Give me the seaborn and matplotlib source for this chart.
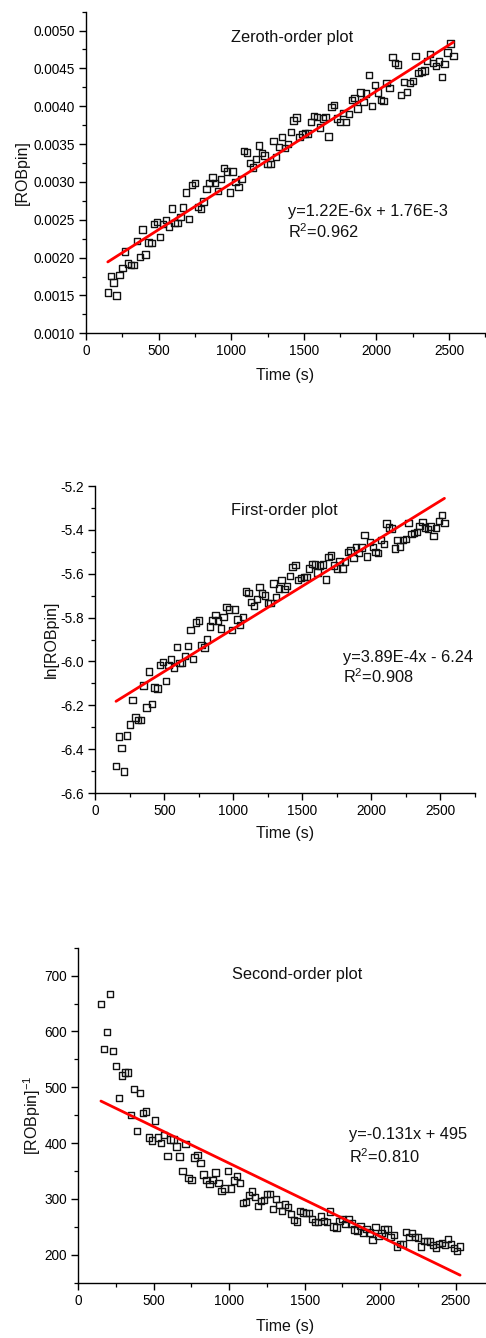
import numpy as np
import pandas as pd
import matplotlib
matplotlib.use("Agg")
import matplotlib.pyplot as plt
from matplotlib.ticker import MultipleLocator, FormatStrFormatter
import seaborn as sns

# ---- measured data -------------------------------------------------------
time_s = [
    150, 170, 190, 210, 230, 250, 270, 290, 310, 330,
    350, 370, 390, 410, 430, 450, 470, 490, 510, 530,
    550, 570, 590, 610, 630, 650, 670, 690, 710, 730,
    750, 770, 790, 810, 830, 850, 870, 890, 910, 930,
    950, 970, 990, 1010, 1030, 1050, 1070, 1090, 1110, 1130,
    1150, 1170, 1190, 1210, 1230, 1250, 1270, 1290, 1310, 1330,
    1350, 1370, 1390, 1410, 1430, 1450, 1470, 1490, 1510, 1530,
    1550, 1570, 1590, 1610, 1630, 1650, 1670, 1690, 1710, 1730,
    1750, 1770, 1790, 1810, 1830, 1850, 1870, 1890, 1910, 1930,
    1950, 1970, 1990, 2010, 2030, 2050, 2070, 2090, 2110, 2130,
    2150, 2170, 2190, 2210, 2230, 2250, 2270, 2290, 2310, 2330,
    2350, 2370, 2390, 2410, 2430, 2450, 2470, 2490, 2510, 2530,
]

robpin_conc = [
    0.00154, 0.00176, 0.00167, 0.00150, 0.00177, 0.00186, 0.00208, 0.00192, 0.00190, 0.00190,
    0.00222, 0.00201, 0.00237, 0.00204, 0.00220, 0.00219, 0.00244, 0.00247, 0.00227, 0.00244,
    0.00250, 0.00241, 0.00265, 0.00246, 0.00246, 0.00254, 0.00266, 0.00286, 0.00251, 0.00296,
    0.00299, 0.00267, 0.00264, 0.00274, 0.00291, 0.00299, 0.00306, 0.00299, 0.00288, 0.00304,
    0.00318, 0.00314, 0.00286, 0.00314, 0.00300, 0.00293, 0.00304, 0.00341, 0.00339, 0.00325,
    0.00319, 0.00330, 0.00348, 0.00338, 0.00335, 0.00324, 0.00324, 0.00354, 0.00333, 0.00346,
    0.00359, 0.00345, 0.00350, 0.00366, 0.00381, 0.00385, 0.00359, 0.00363, 0.00364, 0.00364,
    0.00379, 0.00387, 0.00386, 0.00372, 0.00384, 0.00386, 0.00360, 0.00399, 0.00402, 0.00384,
    0.00379, 0.00391, 0.00379, 0.00390, 0.00408, 0.00411, 0.00397, 0.00418, 0.00406, 0.00417,
    0.00441, 0.00400, 0.00428, 0.00418, 0.00408, 0.00407, 0.00431, 0.00424, 0.00465, 0.00457,
    0.00455, 0.00415, 0.00432, 0.00419, 0.00431, 0.00433, 0.00466, 0.00444, 0.00446, 0.00447,
    0.00460, 0.00469, 0.00457, 0.00453, 0.00459, 0.00439, 0.00456, 0.00471, 0.00483, 0.00466,
]

# linear fits as reported on each plot
fit_slopes = [1.22e-6, 3.89e-4, -0.131]
fit_intercepts = [1.76e-3, -6.24, 495.0]
fit_r2 = ["0.962", "0.908", "0.810"]
fit_labels = ["y=1.22E-6x + 1.76E-3", "y=3.89E-4x - 6.24", "y=-0.131x + 495"]
plot_titles = ["Zeroth-order plot", "First-order plot", "Second-order plot"]
y_labels = ["[ROBpin]", "ln[ROBpin]", "[ROBpin]$^{-1}$"]
x_ticks = [0, 500, 1000, 1500, 2000, 2500]

# ---- derived quantities for the three kinetic treatments -----------------
conc = np.asarray(robpin_conc)
df = pd.DataFrame({
    "time": time_s,
    "zeroth": conc,
    "first": np.log(conc),
    "second": 1.0 / conc,
})
series_cols = ["zeroth", "first", "second"]

# ---- styling --------------------------------------------------------------
sns.set_theme(style="ticks")
plt.rcParams["font.family"] = ["Liberation Sans", "DejaVu Sans"]
plt.rcParams["mathtext.fontset"] = "custom"
plt.rcParams["mathtext.rm"] = "Liberation Sans"
plt.rcParams["mathtext.it"] = "Liberation Sans:italic"
plt.rcParams["mathtext.bf"] = "Liberation Sans:bold"
plt.rcParams["axes.unicode_minus"] = False
plt.rcParams["axes.edgecolor"] = "black"
plt.rcParams["xtick.color"] = "black"
plt.rcParams["ytick.color"] = "black"
plt.rcParams["text.color"] = "#111111"
plt.rcParams["axes.labelcolor"] = "#111111"

fig = plt.figure(figsize=(4.86, 13.38), dpi=100)
fig.patch.set_facecolor("white")

layout = [
    dict(rect=[0.177, 0.7509, 0.8216, 0.2404], ylim=(0.001, 0.00525),
         major=0.0005, minor=0.00025, fmt="%.4f",
         title_xy=(1419, 0.00485), eq_xy=(1391, 0.00255), r2_xy=(1391, 0.00226),
         ylab_x=-0.160),
    dict(rect=[0.1961, 0.4073, 0.7809, 0.2294], ylim=(-6.6, -5.2),
         major=0.2, minor=0.1, fmt="%.1f",
         title_xy=(1366, -5.332), eq_xy=(1797, -6.001), r2_xy=(1797, -6.100),
         ylab_x=-0.115),
    dict(rect=[0.1611, 0.0413, 0.8539, 0.2504], ylim=(150, 750),
         major=100, minor=50, fmt="%d",
         title_xy=(1449, 694), eq_xy=(1795, 407), r2_xy=(1795, 364),
         ylab_x=-0.112),
]

t_fit = np.array([time_s[0], time_s[-1]], dtype=float)

for k, lay in enumerate(layout):
    ax = fig.add_axes(lay["rect"])
    ax.set_facecolor("white")

    sns.scatterplot(data=df, x="time", y=series_cols[k], ax=ax, marker="s",
                    s=21, linewidth=1.0, zorder=3, legend=False)
    pts = ax.collections[-1]
    pts.set_facecolor("none")
    pts.set_edgecolor("#111111")

    sns.lineplot(x=t_fit, y=fit_slopes[k] * t_fit + fit_intercepts[k], ax=ax,
                 color="#ff0000", linewidth=2.0, zorder=4, sort=False)

    ax.set_xlim(0, 2750)
    ax.set_ylim(*lay["ylim"])
    ax.set_xticks(x_ticks)
    ax.xaxis.set_minor_locator(MultipleLocator(250))
    ax.yaxis.set_major_locator(MultipleLocator(lay["major"]))
    ax.yaxis.set_minor_locator(MultipleLocator(lay["minor"]))
    ax.yaxis.set_major_formatter(FormatStrFormatter(lay["fmt"]))

    for side in ("top", "right"):
        ax.spines[side].set_visible(False)
    for side in ("left", "bottom"):
        ax.spines[side].set_linewidth(1.0)
        ax.spines[side].set_color("black")

    ax.tick_params(which="major", direction="out", length=5, width=1.0,
                   labelsize=9.8, pad=3)
    ax.tick_params(which="minor", direction="out", length=3, width=0.9)

    ax.set_xlabel("Time (s)", fontsize=11.5, va="center")
    ax.xaxis.set_label_coords(0.499, -0.131)
    ax.set_ylabel(y_labels[k], fontsize=11.5, va="center", ha="center")
    ax.yaxis.set_label_coords(lay["ylab_x"], 0.5)

    tx, ty = lay["title_xy"]
    ax.text(tx, ty, plot_titles[k], fontsize=11.8, ha="center", va="baseline")
    ex, ey = lay["eq_xy"]
    ax.text(ex, ey, fit_labels[k], fontsize=11.8, ha="left", va="baseline")
    rx, ry = lay["r2_xy"]
    ax.text(rx, ry, "R$^{2}$=" + fit_r2[k], fontsize=11.8, ha="left", va="baseline")

fig.savefig("out.png", dpi=100, facecolor="white")
